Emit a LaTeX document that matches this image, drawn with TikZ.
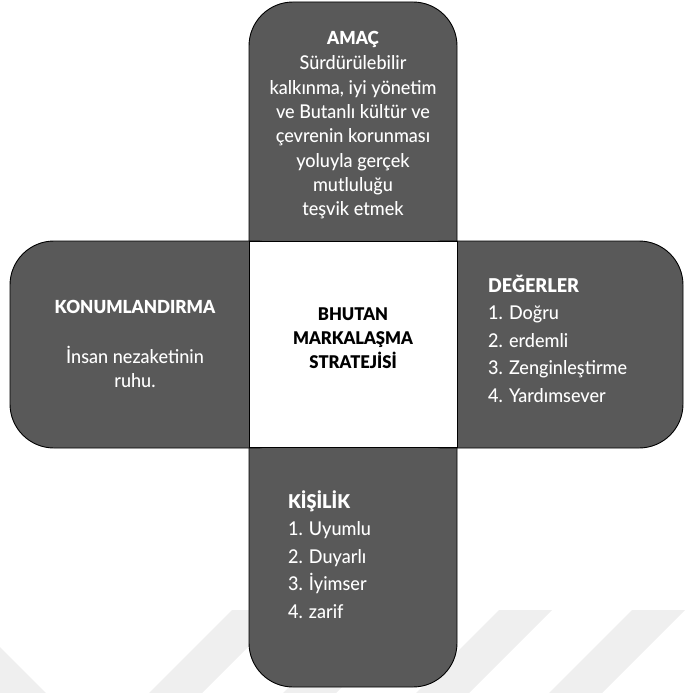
\documentclass[tikz,border=0pt]{standalone}
\usepackage{fontspec}
\IfFontExistsTF{Lato Medium}
  {\setmainfont{Lato Medium}[FakeStretch=0.95, BoldFont={Lato Bold}]}
  {\setmainfont{Lato}[FakeStretch=0.95, FakeBold=0.6]}
\IfFontExistsTF{Lato Black}
  {\newfontfamily\heavy{Lato Black}[FakeStretch=0.95]}
  {\newfontfamily\heavy{Lato}[FakeStretch=0.95, UprightFont=*-Bold, FakeBold=1.2]}
\definecolor{armgray}{HTML}{595959}
\definecolor{markgray}{HTML}{EFEFEF}
\newcommand\blk[2]{\begin{tabular}[t]{@{}#1@{}}#2\end{tabular}}
\begin{document}
\begin{tikzpicture}[x=1pt,y=-1pt,
  arm/.style={fill=armgray, draw=black, line width=0.9pt, rounded corners=44pt},
  core/.style={fill=white, draw=black, line width=0.9pt, minimum width=208pt,
    minimum height=206pt, inner sep=0pt},
  txt/.style={anchor=base, inner sep=0pt, text=white,
    font=\fontsize{19}{24.3}\selectfont},
  list/.style={txt, anchor=base west, font=\fontsize{19}{27.5}\selectfont},
  head/.style={txt, font=\fontsize{18}{24.3}\selectfont\heavy}]
\useasboundingbox (0,0) rectangle (685,693);

% faint diagonal band pattern along the bottom edge
\begin{scope}
  \clip (0,0) rectangle (685,693);
  \foreach \x in {232,366,499,632}
    \fill[markgray] (\x,610) -- (\x+53,610) -- (\x-30,693) -- (\x-83,693) -- cycle;
  \fill[markgray] (0,647) -- (46,693) -- (0,693) -- cycle;
\end{scope}

% four arms of the cross; inner ends are hidden under the central square
\draw[arm] (249,2) rectangle (457,300);
\draw[arm] (249,390) rectangle (457,687);
\draw[arm] (10,241) rectangle (300,448);
\draw[arm] (400,241) rectangle (683,448);

% central square
\node[core] (core) at (353,344.5) {};

% centre title
\node[txt, text=black, font=\fontsize{17.5}{24}\selectfont\heavy] (title) at (353,320)
  {\blk{c}{BHUTAN\\MARKALAŞMA\\STRATEJİSİ}};

% top arm
\node[head] (amacHead) at (353,45) {AMAÇ};
\node[txt] (amacBody) at (353,70)
  {\blk{c}{Sürdürülebilir\\kalkınma, iyi yönetim\\ve Butanlı kültür ve\\çevrenin korunması\\yoluyla gerçek\\mutluluğu\\teşvik etmek}};

% left arm
\node[head] (konHead) at (135,313) {KONUMLANDIRMA};
\node[txt] (konBody) at (135,363) {\blk{c}{İnsan nezaketinin\\ruhu.}};

% right arm
\node[list] (degerler) at (488,292)
  {\blk{l}{{\heavy DEĞERLER}\\1. Doğru\\2. erdemli\\3. Zenginleştirme\\4. Yardımsever}};

% bottom arm
\node[list] (kisilik) at (288,508)
  {\blk{l}{{\heavy KİŞİLİK}\\1. Uyumlu\\2. Duyarlı\\3. İyimser\\4. zarif}};
\end{tikzpicture}
\end{document}
